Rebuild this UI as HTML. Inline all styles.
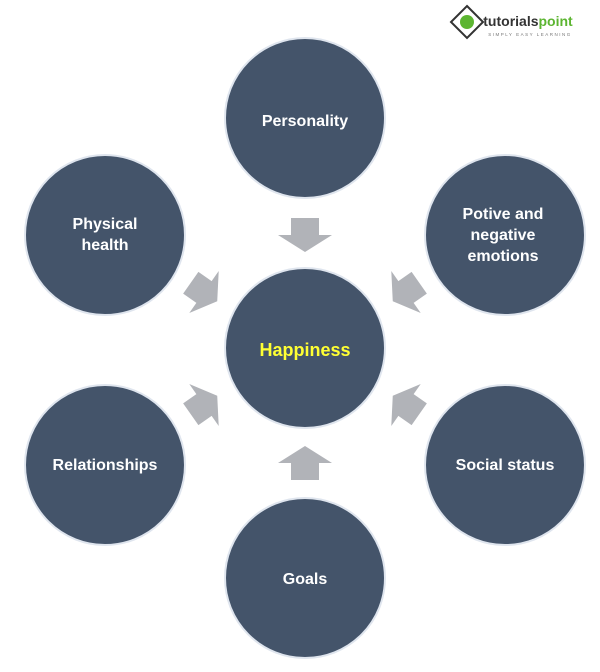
<!DOCTYPE html>
<html><head><meta charset="utf-8"><style>
html,body{margin:0;padding:0;background:#fff;}
svg{display:block;}
text{font-family:"Liberation Sans",sans-serif;font-weight:bold;fill:#fff;font-size:16px;text-anchor:middle;}
</style></head><body>
<svg width="600" height="672" viewBox="0 0 600 672">
<defs>
<polygon id="ar" points="-14,-17 14,-17 14,0 27,0 0,17 -27,0 -14,0" fill="#b1b3b8"/>
</defs>
<g fill="#44546a" stroke="#dfe5ee" stroke-width="2">
<circle cx="305" cy="118" r="80"/>
<circle cx="105" cy="235" r="80"/>
<circle cx="505" cy="235" r="80"/>
<circle cx="305" cy="348" r="80"/>
<circle cx="105" cy="465" r="80"/>
<circle cx="505" cy="465" r="80"/>
<circle cx="305" cy="578" r="80"/>
</g>
<use href="#ar" transform="translate(305,235)"/>
<use href="#ar" transform="translate(305,463) rotate(180)"/>
<use href="#ar" transform="translate(204,292) rotate(-55) scale(0.95)"/>
<use href="#ar" transform="translate(406,292) rotate(55) scale(0.95)"/>
<use href="#ar" transform="translate(204,405) rotate(-125) scale(0.95)"/>
<use href="#ar" transform="translate(406,405) rotate(125) scale(0.95)"/>
<text x="305" y="126">Personality</text>
<text x="105" y="229">Physical</text>
<text x="105" y="250">health</text>
<text x="503" y="219">Potive and</text>
<text x="503" y="240">negative</text>
<text x="503" y="261">emotions</text>
<text x="305" y="356" style="fill:#ffff33;font-size:18px">Happiness</text>
<text x="105" y="470">Relationships</text>
<text x="505" y="470">Social status</text>
<text x="305" y="584">Goals</text>
<g transform="translate(467,22)">
<polygon points="0,-16 16,0 0,16 -16,0" fill="none" stroke="#333" stroke-width="2"/>
<circle cx="0" cy="0" r="7" fill="#5cb531"/>
</g>
<text x="528" y="26" style="fill:#333;font-size:14px;text-anchor:middle">tutorials<tspan fill="#5cb531">point</tspan></text>
<text x="530" y="36" style="fill:#777;font-size:4.5px;font-weight:normal;letter-spacing:1.5px">SIMPLY EASY LEARNING</text>
</svg>
</body></html>
